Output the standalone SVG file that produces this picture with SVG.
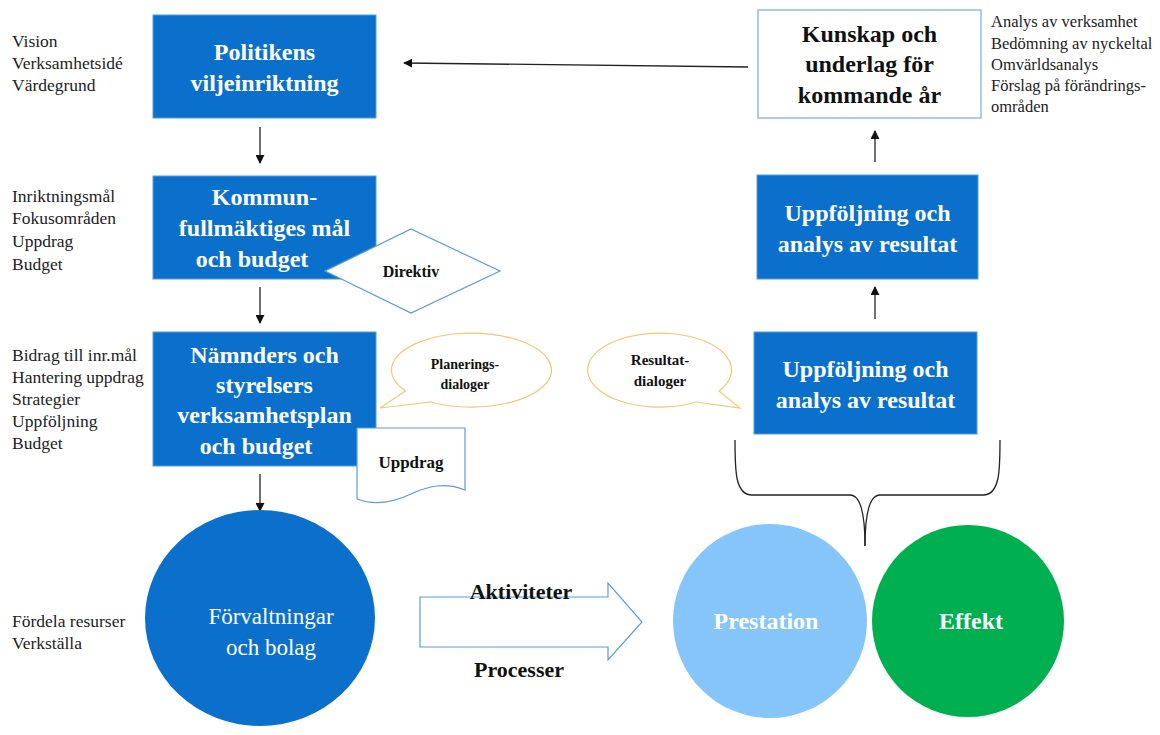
<svg xmlns="http://www.w3.org/2000/svg" width="1160" height="735" viewBox="0 0 1160 735">
<style>
.box{fill:#0B70CC;stroke:#5B9BD5;stroke-width:1}
.bt{font-family:"Liberation Serif",serif;font-weight:bold;font-size:24px;fill:#fff;text-anchor:middle}
.bk{font-family:"Liberation Serif",serif;font-weight:bold;fill:#111;text-anchor:middle}
.lst{font-family:"Liberation Serif",serif;font-size:17.5px;fill:#222}
.call{fill:#fff;stroke:#F2C76E;stroke-width:1.2}
.conn{stroke:#222;stroke-width:1.3;fill:none}
</style>
<defs>
<marker id="ah" viewBox="0 0 10 10" refX="9" refY="5" markerWidth="9" markerHeight="9" markerUnits="userSpaceOnUse" orient="auto">
<path d="M0,0 L10,5 L0,10 Z" fill="#111"/>
</marker>
</defs>
<rect width="1160" height="735" fill="#fff"/>

<g id="list-vision" class="lst">
<text x="12" y="47">Vision</text>
<text x="12" y="69">Verksamhetsidé</text>
<text x="12" y="91">Värdegrund</text>
</g>
<g id="list-inriktning" class="lst">
<text x="12" y="202">Inriktningsmål</text>
<text x="12" y="224">Fokusområden</text>
<text x="12" y="247">Uppdrag</text>
<text x="12" y="270">Budget</text>
</g>
<g id="list-bidrag" class="lst">
<text x="12" y="361">Bidrag till inr.mål</text>
<text x="12" y="383">Hantering uppdrag</text>
<text x="12" y="405">Strategier</text>
<text x="12" y="427">Uppföljning</text>
<text x="12" y="449">Budget</text>
</g>
<g id="list-fordela" class="lst">
<text x="12" y="627">Fördela resurser</text>
<text x="12" y="649">Verkställa</text>
</g>
<g id="list-analys" class="lst" style="font-size:16.5px">
<text x="991" y="27">Analys av verksamhet</text>
<text x="991" y="49">Bedömning av nyckeltal</text>
<text x="991" y="70">Omvärldsanalys</text>
<text x="991" y="91">Förslag på förändrings-</text>
<text x="991" y="112">områden</text>
</g>

<g id="connectors">
<line class="conn" x1="748" y1="67" x2="404" y2="63" marker-end="url(#ah)"/>
<line class="conn" x1="260" y1="127" x2="260" y2="163" marker-end="url(#ah)"/>
<line class="conn" x1="260" y1="287" x2="260" y2="323" marker-end="url(#ah)"/>
<line class="conn" x1="260" y1="474" x2="260" y2="511" marker-end="url(#ah)"/>
<line class="conn" x1="875" y1="162" x2="875" y2="131" marker-end="url(#ah)"/>
<line class="conn" x1="875" y1="319" x2="875" y2="287" marker-end="url(#ah)"/>
<path class="conn" stroke="#444" d="M735,440 C735,470 735,495 752,495 L850,495 C861,495 865,515 865,546"/>
<path class="conn" stroke="#444" d="M1000,440 C1000,470 1000,495 983,495 L880,495 C869,495 865,515 865,546"/>
</g>

<g id="node-politikens">
<rect class="box" x="153" y="15" width="223" height="103"/>
<text class="bt" x="264.5" y="60">Politikens</text>
<text class="bt" x="264.5" y="91">viljeinriktning</text>
</g>

<g id="node-kommun">
<rect class="box" x="153" y="176" width="223" height="103"/>
<text class="bt" x="264.5" y="205">Kommun-</text>
<text class="bt" x="264.5" y="236">fullmäktiges mål</text>
<text class="bt" x="252" y="267">och budget</text>
</g>

<g id="node-direktiv">
<polygon points="325,271 411,229 500,271 411,313" fill="#fff" stroke="#5B9BD5" stroke-width="1.2"/>
<text class="bk" x="411" y="277" font-size="16">Direktiv</text>
</g>

<g id="node-namnders">
<rect class="box" x="153" y="332" width="223" height="134"/>
<text class="bt" x="264.5" y="363">Nämnders och</text>
<text class="bt" x="264.5" y="393">styrelsers</text>
<text class="bt" x="264.5" y="423">verksamhetsplan</text>
<text class="bt" x="256" y="454">och budget</text>
</g>

<g id="node-uppdrag">
<path d="M357,428 H465 V490 C445,482 428,486 411,494 C394,502 375,506 357,499 Z" fill="#fff" stroke="#5B9BD5" stroke-width="1.2"/>
<text class="bk" x="411" y="468" font-size="17">Uppdrag</text>
</g>

<g id="node-planering">
<path class="call" d="M431,402 L380,408 L405.5,391 A80 37 0 1 1 431,402 Z"/>
<text class="bk" x="465" y="369" font-size="14">Planerings-</text>
<text class="bk" x="465" y="389" font-size="14">dialoger</text>
</g>

<g id="node-forvaltningar">
<ellipse cx="260" cy="618" rx="115" ry="108" fill="#0B70CC"/>
<text x="271" y="624" font-family="Liberation Serif,serif" font-size="23" fill="#fff" text-anchor="middle">Förvaltningar</text>
<text x="271" y="655" font-family="Liberation Serif,serif" font-size="23" fill="#fff" text-anchor="middle">och bolag</text>
</g>

<g id="node-aktiviteter">
<polygon points="420,597 608,597 608,583 642,622 608,660 608,647 420,647" fill="#fff" stroke="#5B9BD5" stroke-width="1.2"/>
<text class="bk" x="521" y="599" font-size="22">Aktiviteter</text>
<text class="bk" x="519" y="677" font-size="22">Processer</text>
</g>

<g id="node-prestation">
<circle cx="770" cy="621" r="97" fill="#86C5FA"/>
<text class="bt" x="766" y="629" font-size="22">Prestation</text>
</g>

<g id="node-effekt">
<circle cx="968" cy="621" r="96" fill="#00B050"/>
<text class="bt" x="971" y="629" font-size="22">Effekt</text>
</g>

<g id="node-resultat">
<path class="call" d="M719,391 L740,408 L696,402 A72 37 0 1 1 719,391 Z"/>
<text class="bk" x="660" y="365" font-size="15">Resultat-</text>
<text class="bk" x="660" y="386" font-size="15">dialoger</text>
</g>

<g id="node-uppfoljning1">
<rect class="box" x="754" y="332" width="223" height="102"/>
<text class="bt" x="865.5" y="377">Uppföljning och</text>
<text class="bt" x="865.5" y="408">analys av resultat</text>
</g>

<g id="node-uppfoljning2">
<rect class="box" x="757" y="175" width="221" height="104"/>
<text class="bt" x="867.5" y="221">Uppföljning och</text>
<text class="bt" x="867.5" y="252">analys av resultat</text>
</g>

<g id="node-kunskap">
<rect x="758" y="10" width="223" height="108" fill="#fff" stroke="#7FB2E0" stroke-width="1.3"/>
<text class="bk" x="869.5" y="42" font-size="24">Kunskap och</text>
<text class="bk" x="869.5" y="72" font-size="24">underlag för</text>
<text class="bk" x="869.5" y="103" font-size="24">kommande år</text>
</g>
</svg>
